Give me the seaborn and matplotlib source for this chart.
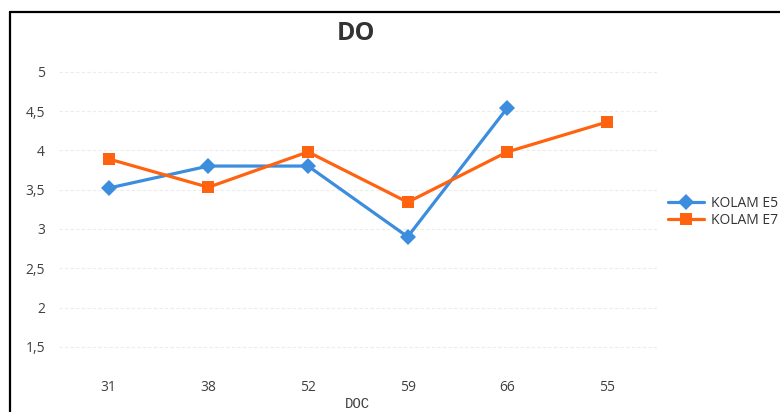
import matplotlib
matplotlib.use("Agg")
import matplotlib.pyplot as plt
from matplotlib.lines import Line2D
import seaborn as sns
import pandas as pd

# DOC (days of culture) categories, in display order
doc = ["31", "38", "52", "59", "66", "55"]

# Dissolved oxygen readings per pond
kolam_e5 = [3.52, 3.80, 3.80, 2.90, 4.54]
kolam_e7 = [3.89, 3.53, 3.98, 3.34, 3.98, 4.36]

y_ticks = [1.5, 2, 2.5, 3, 3.5, 4, 4.5, 5]

series_names = ["KOLAM E5", "KOLAM E7"]
colors = {"KOLAM E5": "#3C8DDE", "KOLAM E7": "#FF6310"}
markers = {"KOLAM E5": "D", "KOLAM E7": "s"}

rows = []
for x, v in zip(doc, kolam_e5):
    rows.append({"DOC": x, "DO": v, "Kolam": "KOLAM E5"})
for x, v in zip(doc, kolam_e7):
    rows.append({"DOC": x, "DO": v, "Kolam": "KOLAM E7"})
df = pd.DataFrame(rows)

sns.set_theme(style="white")
plt.rcParams["font.family"] = ["Open Sans", "DejaVu Sans"]

fig = plt.figure(figsize=(7.8, 4.12), dpi=100)
ax = fig.add_axes([0.0756, 0.0915, 0.7664, 0.7439])

sns.lineplot(
    data=df, x="DOC", y="DO", hue="Kolam", style="Kolam",
    hue_order=series_names, style_order=series_names,
    palette=colors, markers=markers, dashes=False, sort=False,
    linewidth=2.3, markersize=8.5, markeredgewidth=0, ax=ax,
)

ax.set_xlim(-0.5, len(doc) - 0.5)
ax.set_ylim(1.15, 5.05)
ax.set_yticks(y_ticks)
ax.set_yticklabels([f"{t:g}".replace(".", ",") for t in y_ticks])
ax.set_xlabel("")
ax.set_ylabel("")
ax.tick_params(axis="y", length=0, pad=10, labelsize=10, colors="#404040")
ax.tick_params(axis="x", length=0, pad=4, labelsize=10, colors="#404040")
ax.grid(axis="y", color="#ececec", linewidth=0.8, linestyle=(0, (3, 2)))
ax.set_axisbelow(True)
for s in ax.spines.values():
    s.set_visible(False)

ax.legend(
    loc="center left", bbox_to_anchor=(668 / 780, 1 - 212 / 412),
    bbox_transform=fig.transFigure, frameon=False, fontsize=10,
    handlelength=2.6, handletextpad=0.5, labelspacing=0.15, borderpad=0,
    borderaxespad=0, labelcolor="#333333",
)

fig.text(356 / 780, 1 - 33 / 412, "DO", ha="center", va="center",
         fontsize=18, fontweight="bold", color="#333333")
fig.text(357 / 780, 1 - 404 / 412, "DOC", ha="center", va="center",
         fontsize=10, family="Liberation Mono", color="#404040")

# Outer chart frame (left and top edges)
fig.add_artist(Line2D([10 / 780, 10 / 780], [0, 1 - 12 / 412],
                      transform=fig.transFigure, color="black", linewidth=1.6))
fig.add_artist(Line2D([10 / 780, 1], [1 - 12 / 412, 1 - 12 / 412],
                      transform=fig.transFigure, color="black", linewidth=1.6))

fig.savefig("out.png", dpi=100, facecolor="white")
